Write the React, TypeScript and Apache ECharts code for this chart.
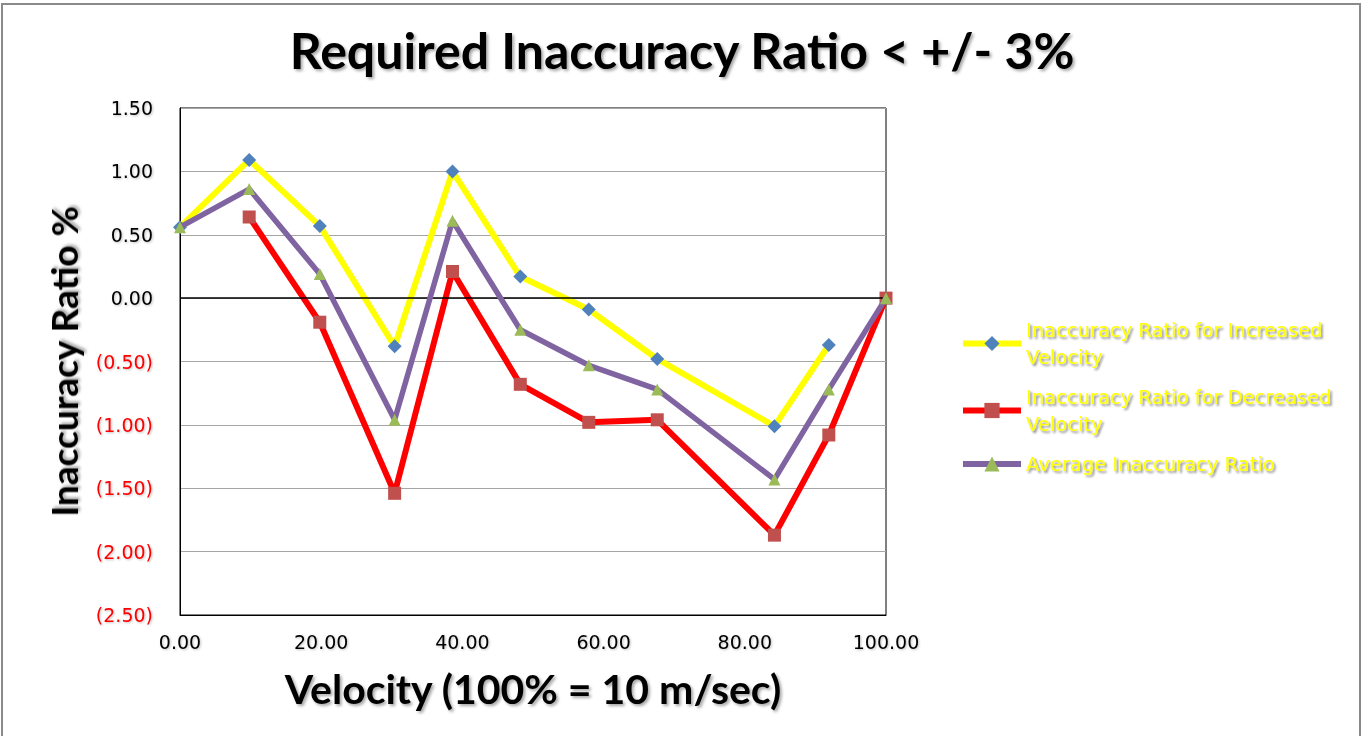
import React, { useEffect, useRef } from "react";
import * as echarts from "echarts";

const velocity = [0, 9.8, 19.8, 30.4, 38.6, 48.2, 57.9, 67.6, 84.2, 91.9, 100];
const increased: (number | null)[] = [0.56, 1.09, 0.57, -0.38, 1.0, 0.17, -0.09, -0.48, -1.01, -0.37, null];
const decreased: (number | null)[] = [null, 0.64, -0.19, -1.54, 0.21, -0.68, -0.98, -0.96, -1.87, -1.08, 0.0];
const average: (number | null)[] = [0.56, 0.86, 0.19, -0.96, 0.61, -0.25, -0.53, -0.72, -1.43, -0.72, 0.0];

const seriesNames = [
  "Inaccuracy Ratio for Increased Velocity",
  "Inaccuracy Ratio for Decreased Velocity",
  "Average Inaccuracy Ratio",
];
const legendLabels: Record<string, string> = {
  [seriesNames[0]]: "Inaccuracy Ratio for Increased\nVelocity",
  [seriesNames[1]]: "Inaccuracy Ratio for Decreased\nVelocity",
  [seriesNames[2]]: "Average Inaccuracy Ratio",
};

const pairs = (ys: (number | null)[]) =>
  velocity.map((x, i) => [x, ys[i]]).filter((p) => p[1] !== null);

const shadow = {
  textShadowColor: "rgba(0,0,0,0.35)",
  textShadowBlur: 3,
  textShadowOffsetX: 2,
  textShadowOffsetY: 2,
};
const lightShadow = {
  textShadowColor: "rgba(0,0,0,0.25)",
  textShadowBlur: 2,
  textShadowOffsetX: 1,
  textShadowOffsetY: 1,
};
const labelFont = "'DejaVu Sans', Verdana, sans-serif";

export default function App() {
  const ref = useRef<HTMLDivElement>(null);
  useEffect(() => {
    const chart = echarts.init(ref.current!, null, { renderer: "svg" });
    chart.setOption({
      animation: false,
      backgroundColor: "#ffffff",
      title: {
        text: "Required Inaccuracy Ratio < +/- 3%",
        left: "center",
        top: 20,
        textStyle: {
          fontFamily: "Lato, sans-serif",
          fontWeight: "bold",
          fontSize: 50,
          color: "#000",
          ...shadow,
        },
      },
      graphic: [
        {
          type: "rect",
          shape: { x: 2, y: 4, width: 1358, height: 740 },
          style: { fill: "none", stroke: "#8a8a8a", lineWidth: 2 },
          silent: true,
        },
      ],
      legend: {
        orient: "vertical",
        left: 955,
        top: 298,
        itemWidth: 58,
        itemHeight: 19,
        itemGap: -14,
        data: seriesNames,
        lineStyle: { width: 6 },
        formatter: (name: string) => legendLabels[name],
        textStyle: {
          fontFamily: labelFont,
          fontSize: 19.5,
          lineHeight: 27,
          color: "#ffff00",
          padding: [27, 0, 0, 0],
          textShadowColor: "rgba(0,0,0,0.45)",
          textShadowBlur: 2,
          textShadowOffsetX: 2,
          textShadowOffsetY: 2,
        },
      },
      grid: {
        left: 180,
        right: 478,
        top: 108,
        bottom: 121,
        show: true,
        borderColor: "#000",
        borderWidth: 1,
        backgroundColor: "transparent",
      },
      xAxis: {
        type: "value",
        min: 0,
        max: 100,
        interval: 20,
        name: "Velocity (100% = 10 m/sec)",
        nameLocation: "middle",
        nameGap: 53,
        nameTextStyle: {
          fontFamily: "Lato, sans-serif",
          fontWeight: "bold",
          fontSize: 41,
          color: "#000",
          ...shadow,
        },
        axisLine: { onZero: false, lineStyle: { color: "#000" } },
        axisTick: { show: false },
        splitLine: { show: false },
        axisLabel: {
          formatter: (v: number) => v.toFixed(2),
          fontFamily: labelFont,
          fontSize: 19,
          color: "#000",
          margin: 17,
          ...lightShadow,
        },
      },
      yAxis: {
        type: "value",
        min: -2.5,
        max: 1.5,
        interval: 0.5,
        name: "Inaccuracy Ratio %",
        nameLocation: "middle",
        nameGap: 98,
        nameRotate: 90,
        nameTextStyle: {
          fontFamily: "Lato, sans-serif",
          fontWeight: "bold",
          fontSize: 37,
          color: "#000",
          ...shadow,
        },
        axisLine: { show: true, lineStyle: { color: "#000" } },
        axisTick: { show: false },
        splitLine: { show: true, lineStyle: { color: "#a6a6a6", width: 1 } },
        axisLabel: {
          margin: 27,
          formatter: (v: number) =>
            v < 0 ? `{neg|(${Math.abs(v).toFixed(2)})}` : `{pos|${v.toFixed(2)}}`,
          rich: {
            neg: { fontFamily: labelFont, fontSize: 19, color: "#ff0000", ...lightShadow },
            pos: { fontFamily: labelFont, fontSize: 19, color: "#000", ...lightShadow },
          },
        },
      },
      series: [
        {
          name: seriesNames[0],
          type: "line",
          data: pairs(increased),
          symbol: "diamond",
          symbolSize: 14,
          showAllSymbol: true,
          lineStyle: { color: "#ffff00", width: 6 },
          itemStyle: { color: "#4f81bd" },
          markLine: {
            silent: true,
            symbol: "none",
            label: { show: false },
            lineStyle: { color: "#000", width: 1.5, type: "solid" },
            data: [{ yAxis: 0 }],
          },
          z: 3,
        },
        {
          name: seriesNames[1],
          type: "line",
          data: pairs(decreased),
          symbol: "rect",
          symbolSize: 13,
          showAllSymbol: true,
          lineStyle: { color: "#ff0000", width: 6 },
          itemStyle: { color: "#c0504d" },
          z: 4,
        },
        {
          name: seriesNames[2],
          type: "line",
          data: pairs(average),
          symbol: "triangle",
          symbolSize: 12,
          showAllSymbol: true,
          lineStyle: { color: "#8064a2", width: 5.5 },
          itemStyle: { color: "#9bbb59" },
          z: 5,
        },
      ],
    });
    return () => chart.dispose();
  }, []);
  return (
    <div
      ref={ref}
      style={{ position: "absolute", left: 0, top: 0, width: 1364, height: 736 }}
    />
  );
}
